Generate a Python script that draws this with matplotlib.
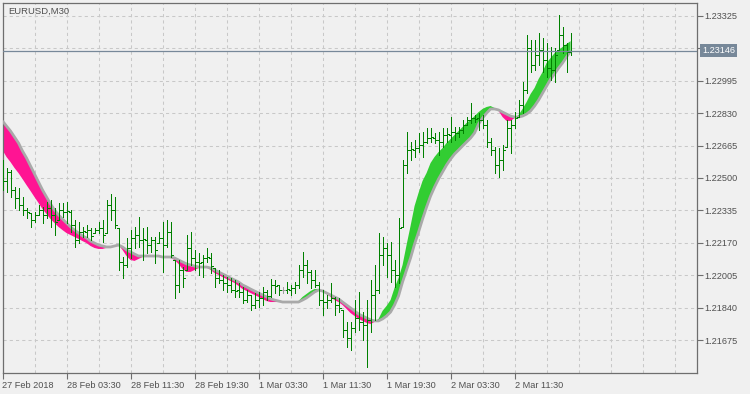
import numpy as np
import matplotlib
matplotlib.use("Agg")
import matplotlib.pyplot as plt

symbol_label = "EURUSD,M30"
current_price = 1.23146

# OHLC of each M30 bar (oldest first)
high = [1.22591,1.22551,1.22541,1.22454,1.22449,1.22403,1.22347,1.22322,1.22327,1.22363,
        1.22352,1.22378,1.22388,1.22347,1.22373,1.22373,1.22378,1.22337,1.22286,1.22276,
        1.22251,1.22261,1.22246,1.22246,1.22276,1.22286,1.22388,1.22419,1.22403,1.22246,
        1.22098,1.22195,1.22235,1.22251,1.22302,1.22246,1.22251,1.22200,1.22200,1.22225,
        1.22276,1.22286,1.22276,1.22083,1.22083,1.22047,1.22210,1.22225,1.22134,1.22118,
        1.22108,1.22144,1.22118,1.22042,1.22032,1.22007,1.21996,1.21991,1.21981,1.21966,
        1.21946,1.21930,1.21905,1.21915,1.21920,1.21946,1.21930,1.21986,1.21981,1.21956,
        1.21946,1.21971,1.21956,1.21971,1.22057,1.22124,1.22083,1.22032,1.22032,1.21971,
        1.21930,1.21905,1.21966,1.21895,1.21890,1.21829,1.21768,1.21768,1.21879,1.21920,
        1.21818,1.21879,1.21981,1.22057,1.22220,1.22200,1.22169,1.22174,1.22083,1.22296,
        1.22591,1.22734,1.22683,1.22693,1.22729,1.22734,1.22754,1.22754,1.22729,1.22734,
        1.22754,1.22754,1.22810,1.22759,1.22759,1.22795,1.22810,1.22881,1.22820,1.22830,
        1.22820,1.22795,1.22703,1.22658,1.22652,1.22668,1.22795,1.22795,1.22835,1.22896,
        1.22988,1.23227,1.23202,1.23202,1.23237,1.23212,1.23186,1.23166,1.23161,1.23329,
        1.23268,1.23186,1.23237]
low = [1.22439,1.22429,1.22403,1.22347,1.22337,1.22312,1.22296,1.22251,1.22276,1.22312,
       1.22271,1.22296,1.22251,1.22210,1.22286,1.22302,1.22271,1.22225,1.22149,1.22169,
       1.22200,1.22200,1.22185,1.22220,1.22220,1.22174,1.22220,1.22286,1.22246,1.22032,
       1.21991,1.22047,1.22093,1.22144,1.22149,1.22083,1.22118,1.22124,1.22068,1.22169,
       1.22022,1.22149,1.22098,1.21890,1.21920,1.21946,1.22032,1.22057,1.22032,1.22007,
       1.21996,1.22073,1.22017,1.21946,1.21966,1.21930,1.21920,1.21920,1.21895,1.21895,
       1.21864,1.21869,1.21829,1.21839,1.21844,1.21854,1.21879,1.21895,1.21915,1.21905,
       1.21915,1.21915,1.21905,1.21915,1.21941,1.21996,1.21966,1.21941,1.21946,1.21854,
       1.21803,1.21839,1.21869,1.21803,1.21818,1.21691,1.21641,1.21625,1.21717,1.21727,
       1.21676,1.21539,1.21717,1.21778,1.21915,1.22057,1.21996,1.21971,1.21946,1.21966,
       1.22251,1.22525,1.22591,1.22607,1.22632,1.22607,1.22678,1.22683,1.22678,1.22617,
       1.22658,1.22683,1.22683,1.22693,1.22708,1.22729,1.22769,1.22780,1.22785,1.22744,
       1.22754,1.22658,1.22617,1.22525,1.22505,1.22541,1.22658,1.22627,1.22754,1.22810,
       1.22830,1.22932,1.23039,1.23049,1.23074,1.23039,1.23013,1.22998,1.22988,1.23151,
       1.23135,1.23039,1.23125]
open_ = [1.22540,1.22485,1.22530,1.22439,1.22398,1.22363,1.22337,1.22322,1.22286,1.22312,
         1.22337,1.22312,1.22347,1.22312,1.22286,1.22337,1.22327,1.22327,1.22261,1.22185,
         1.22225,1.22225,1.22235,1.22220,1.22235,1.22246,1.22220,1.22363,1.22337,1.22246,
         1.22073,1.22057,1.22144,1.22195,1.22210,1.22185,1.22185,1.22159,1.22185,1.22169,
         1.22195,1.22159,1.22225,1.22083,1.21956,1.22032,1.22032,1.22144,1.22093,1.22073,
         1.22073,1.22093,1.22093,1.22042,1.21991,1.21981,1.21966,1.21956,1.21930,1.21930,
         1.21920,1.21879,1.21905,1.21854,1.21879,1.21890,1.21920,1.21900,1.21956,1.21956,
         1.21930,1.21930,1.21930,1.21941,1.21956,1.22032,1.22057,1.22022,1.21981,1.21956,
         1.21879,1.21869,1.21879,1.21890,1.21854,1.21829,1.21727,1.21686,1.21737,1.21788,
         1.21768,1.21752,1.21778,1.21905,1.21930,1.22108,1.22144,1.22108,1.22032,1.22007,
         1.22251,1.22566,1.22642,1.22642,1.22652,1.22668,1.22683,1.22703,1.22703,1.22693,
         1.22683,1.22719,1.22719,1.22734,1.22729,1.22744,1.22769,1.22795,1.22805,1.22805,
         1.22795,1.22769,1.22683,1.22642,1.22566,1.22591,1.22658,1.22754,1.22769,1.22810,
         1.22871,1.22947,1.23161,1.23074,1.23125,1.23151,1.23100,1.23059,1.23049,1.23151,
         1.23227,1.23176,1.23141]
close = [1.22485,1.22530,1.22439,1.22398,1.22363,1.22337,1.22327,1.22286,1.22312,1.22337,
         1.22312,1.22347,1.22312,1.22276,1.22337,1.22327,1.22332,1.22261,1.22185,1.22225,
         1.22230,1.22235,1.22205,1.22235,1.22246,1.22210,1.22363,1.22337,1.22261,1.22073,
         1.22057,1.22144,1.22195,1.22210,1.22185,1.22190,1.22159,1.22185,1.22134,1.22195,
         1.22159,1.22225,1.22108,1.21956,1.22032,1.21991,1.22144,1.22093,1.22073,1.22068,
         1.22093,1.22098,1.22052,1.21991,1.21981,1.21966,1.21956,1.21930,1.21925,1.21920,
         1.21879,1.21905,1.21854,1.21879,1.21890,1.21920,1.21900,1.21956,1.21951,1.21930,
         1.21930,1.21935,1.21941,1.21956,1.22032,1.22057,1.22022,1.21981,1.21956,1.21879,
         1.21869,1.21879,1.21890,1.21854,1.21839,1.21727,1.21686,1.21737,1.21788,1.21768,
         1.21752,1.21778,1.21905,1.21930,1.22108,1.22144,1.22108,1.22032,1.22007,1.22246,
         1.22566,1.22642,1.22647,1.22652,1.22668,1.22683,1.22703,1.22708,1.22693,1.22683,
         1.22719,1.22724,1.22734,1.22729,1.22744,1.22769,1.22795,1.22805,1.22800,1.22795,
         1.22769,1.22683,1.22642,1.22566,1.22591,1.22642,1.22754,1.22769,1.22805,1.22871,
         1.22947,1.23161,1.23074,1.23125,1.23151,1.23100,1.23059,1.23049,1.23125,1.23227,
         1.23176,1.23141,1.23146]

# indicator: slow (gray outline) and fast average
slow_ma = [1.22790,1.22764,1.22739,1.22708,1.22678,1.22637,1.22602,1.22561,1.22520,1.22480,
           1.22439,1.22403,1.22368,1.22337,1.22312,1.22291,1.22271,1.22251,1.22235,1.22220,
           1.22205,1.22195,1.22179,1.22169,1.22159,1.22154,1.22149,1.22149,1.22154,1.22159,
           1.22149,1.22134,1.22124,1.22113,1.22103,1.22103,1.22103,1.22103,1.22103,1.22103,
           1.22098,1.22098,1.22098,1.22093,1.22083,1.22073,1.22063,1.22057,1.22052,1.22047,
           1.22047,1.22047,1.22042,1.22032,1.22022,1.22012,1.22002,1.21991,1.21981,1.21971,
           1.21956,1.21946,1.21935,1.21925,1.21915,1.21905,1.21895,1.21885,1.21879,1.21874,
           1.21869,1.21869,1.21869,1.21869,1.21869,1.21879,1.21890,1.21905,1.21920,1.21930,
           1.21925,1.21915,1.21905,1.21895,1.21885,1.21869,1.21854,1.21839,1.21824,1.21808,
           1.21798,1.21788,1.21778,1.21773,1.21773,1.21783,1.21798,1.21818,1.21854,1.21900,
           1.21971,1.22032,1.22093,1.22164,1.22225,1.22291,1.22352,1.22408,1.22454,1.22495,
           1.22530,1.22566,1.22596,1.22622,1.22642,1.22663,1.22683,1.22703,1.22729,1.22774,
           1.22805,1.22830,1.22851,1.22851,1.22846,1.22835,1.22825,1.22815,1.22810,1.22810,
           1.22815,1.22825,1.22841,1.22866,1.22896,1.22932,1.22968,1.23003,1.23029,1.23059,
           1.23085,1.23115,1.23146]
fast_ma = [1.22642,1.22607,1.22581,1.22551,1.22525,1.22495,1.22464,1.22434,1.22403,1.22373,
           1.22342,1.22317,1.22291,1.22271,1.22251,1.22235,1.22220,1.22210,1.22200,1.22190,
           1.22179,1.22169,1.22154,1.22144,1.22139,1.22139,1.22144,1.22144,1.22159,1.22159,
           1.22134,1.22103,1.22083,1.22078,1.22088,1.22098,1.22103,1.22103,1.22103,1.22103,
           1.22098,1.22098,1.22093,1.22083,1.22063,1.22037,1.22022,1.22022,1.22032,1.22042,
           1.22047,1.22047,1.22032,1.22017,1.22007,1.21996,1.21986,1.21976,1.21966,1.21951,
           1.21935,1.21925,1.21915,1.21905,1.21895,1.21885,1.21874,1.21869,1.21869,1.21869,
           1.21869,1.21869,1.21869,1.21869,1.21874,1.21895,1.21910,1.21925,1.21935,1.21935,
           1.21925,1.21910,1.21895,1.21879,1.21869,1.21854,1.21834,1.21813,1.21798,1.21783,
           1.21773,1.21763,1.21757,1.21768,1.21783,1.21824,1.21849,1.21879,1.21941,1.21991,
           1.22057,1.22159,1.22256,1.22357,1.22424,1.22485,1.22525,1.22576,1.22607,1.22632,
           1.22652,1.22678,1.22698,1.22719,1.22739,1.22759,1.22780,1.22795,1.22815,1.22835,
           1.22851,1.22861,1.22866,1.22856,1.22841,1.22810,1.22790,1.22790,1.22805,1.22820,
           1.22851,1.22886,1.22927,1.22958,1.23003,1.23039,1.23085,1.23110,1.23135,1.23151,
           1.23166,1.23181,1.23196]

x_labels = ['27 Feb 2018', '28 Feb 03:30', '28 Feb 11:30', '28 Feb 19:30', '1 Mar 03:30',
            '1 Mar 11:30', '1 Mar 19:30', '2 Mar 03:30', '2 Mar 11:30']
y_ticks = [1.21675, 1.21840, 1.22005, 1.22170, 1.22335, 1.22500, 1.22665,
           1.22830, 1.22995, 1.23160, 1.23325]

BG = '#f0f0f0'
TXT = '#505050'
AX = '#6e6e6e'
FONT = ['Liberation Sans', 'DejaVu Sans']
plt.rcParams['font.family'] = FONT

W, H = 750, 394
fig = plt.figure(figsize=(W / 100, H / 100), dpi=100, facecolor=BG)
ax = fig.add_axes([2.5 / W, 21 / H, 694.5 / W, 370 / H])
ax.set_facecolor(BG)

n = len(close)
x = np.arange(n)
o = np.array(open_); c = np.array(close); hi = np.array(high); lo = np.array(low)
s = np.array(slow_ma); f = np.array(fast_ma)

ax.set_xlim(0, 173.6)
ax.set_ylim(1.21508, 1.23390)

# grid
for gx in np.arange(8, 174, 8):
    ax.axvline(gx, color='#c8c8c8', lw=0.75, ls=(0, (3, 3)), zorder=0)
for gy in y_ticks:
    ax.axhline(gy, color='#c8c8c8', lw=0.75, ls=(0, (3, 3)), zorder=0)

# band
ax.fill_between(x, s, f, where=f <= s, interpolate=True, color='#ff1493', lw=0, zorder=2)
ax.fill_between(x, s, f, where=f >= s, interpolate=True, color='#32cd32', lw=0, zorder=2)
ax.plot(x, s, color='#a9a9a9', lw=2.0, zorder=3, solid_capstyle='butt')

# bars (one pixel wide)
bar_col = ['#a0a0a0' if oo == cc else '#008000' for oo, cc in zip(o, c)]
lw_bar = 0.72
ax.vlines(x, lo, hi, colors=bar_col, lw=lw_bar, zorder=4, antialiased=False)
ax.hlines(o, x - 0.5, x, colors=bar_col, lw=lw_bar, zorder=4, antialiased=False)
ax.hlines(c, x, x + 0.5, colors=bar_col, lw=lw_bar, zorder=4, antialiased=False)

# current price line
ax.axhline(current_price, color='#778899', lw=0.9, zorder=5)

# axes styling
for sp in ax.spines.values():
    sp.set_color(AX)
    sp.set_linewidth(0.9)

ax.yaxis.tick_right()
ax.set_yticks(y_ticks)
# the 1.23160 label is covered by the current-price box in the reference
ax.set_yticklabels(['' if abs(v - 1.23160) < 1e-9 else f"{v:.5f}" for v in y_ticks])
ax.tick_params(axis='y', direction='out', length=4, width=0.8, color=AX,
               labelsize=6.6, labelcolor=TXT, pad=1.5)
ax.set_xticks(np.arange(0, 16 * len(x_labels), 16))
ax.set_xticklabels(x_labels)
ax.tick_params(axis='x', direction='out', length=4, width=0.8, color=AX,
               labelsize=6.6, labelcolor=TXT, pad=1.5)
for lab in ax.get_xticklabels():
    lab.set_horizontalalignment('left')

ax.text(6 / 694.5, 1 - 4 / 370, symbol_label, transform=ax.transAxes, ha='left', va='top',
        fontsize=6.8, color=TXT)

# price label box
ax.annotate(f"{current_price:.5f}", xy=(1, current_price), xycoords=('axes fraction', 'data'),
            xytext=(3.5, 0), textcoords='offset points', ha='left', va='center',
            fontsize=6.6, color='white', zorder=10, annotation_clip=False,
            bbox=dict(boxstyle='square,pad=0.22', fc='#778899', ec='none'))

fig.savefig('out.png', dpi=100, facecolor=BG)
